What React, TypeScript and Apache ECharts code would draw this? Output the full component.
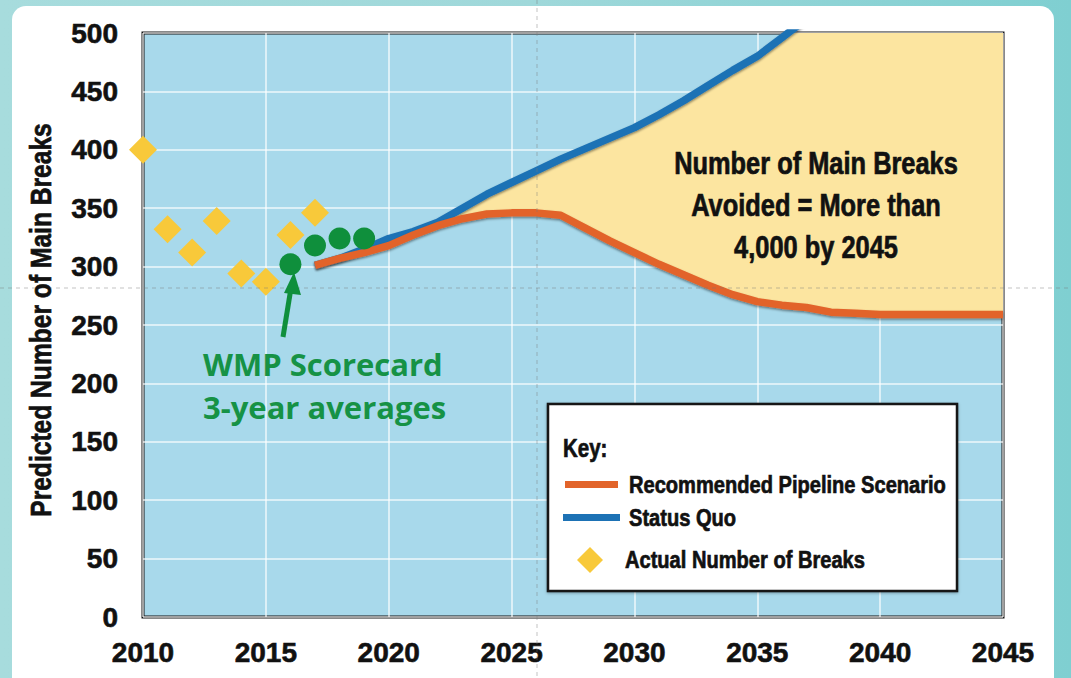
import React, { useEffect, useRef } from "react";
import * as echarts from "echarts";

// ---------- data ----------
const actualYears = [2010, 2011, 2012, 2013, 2014, 2015, 2016, 2017];
const actualBreaks = [400, 332, 312, 339, 294, 287, 327, 346];

const scorecardYears = [2016, 2017, 2018, 2019];
const scorecardAvg = [302, 318, 324, 324];

const recommendedYears = [
  2017, 2018, 2019, 2020, 2021, 2022, 2023, 2024, 2025, 2026, 2027, 2028, 2029, 2030, 2031,
  2032, 2033, 2034, 2035, 2036, 2037, 2038, 2039, 2040, 2041, 2042, 2043, 2044, 2045,
];
const recommended = [
  301, 307, 312, 318, 327, 335, 341, 345, 346, 346, 344, 333, 322, 312, 302,
  293, 284, 276, 270, 267, 265, 261, 260, 259, 259, 259, 259, 259, 259,
];

const statusQuoYears = [
  2017, 2018, 2019, 2020, 2021, 2022, 2023, 2024, 2025, 2026, 2027, 2028, 2029, 2030, 2031,
  2032, 2033, 2034, 2035, 2036, 2037,
];
const statusQuo = [
  301, 307, 315, 324, 330, 338, 350, 362, 372, 382, 392, 401, 410, 419, 430,
  442, 455, 468, 480, 496, 512,
];

const xMin = 2010;
const xMax = 2045;
const yMin = 0;
const yMax = 500;

const yTitle = "Predicted Number of Main Breaks";
const annotationLines = ["Number of Main Breaks", "Avoided = More than", "4,000 by 2045"];
const scorecardLabel = ["WMP Scorecard", "3-year averages"];
const keyTitle = "Key:";
const keyItems = ["Recommended Pipeline Scenario", "Status Quo", "Actual Number of Breaks"];

// ---------- styles ----------
const SANS = "'Liberation Sans', Arial, sans-serif";
const NARROW_SCALE = 0.82;
const ORANGE = "#e2642a";
const BLUE = "#1d72b5";
const YELLOW_FILL = "#fce5a0";
const DIAMOND = "#f8c93a";
const GREEN = "#0f8f3c";
const PLOT_BG = "#a8d9eb";

function pairs(xs: number[], ys: number[]) {
  return xs.map((x, i) => [x, ys[i]]);
}

function narrowText(
  text: string,
  x: number,
  y: number,
  size: number,
  align: string,
  extra: any = {}
) {
  return {
    type: "text",
    z: 61,
    x,
    y,
    scaleX: NARROW_SCALE,
    ...extra,
    style: {
      text,
      fontFamily: SANS,
      fontWeight: "bold",
      fontSize: size,
      fill: "#111",
      stroke: "#111",
      lineWidth: 0.7,
      align,
      verticalAlign: "middle",
    },
  };
}

export default function App() {
  const ref = useRef<HTMLDivElement | null>(null);

  useEffect(() => {
    if (!ref.current) return;
    document.body.style.margin = "0";
    const chart = echarts.init(ref.current, null, { renderer: "svg" });

    const orangePts = pairs(recommendedYears, recommended);
    const bluePts = pairs(statusQuoYears, statusQuo);

    // upper edge of the "avoided" area: status quo clipped at the axis max
    const upper: number[][] = [];
    for (let i = 0; i < bluePts.length; i++) {
      const [x, y] = bluePts[i];
      if (y <= yMax) {
        upper.push([x, y]);
      } else {
        const [px, py] = bluePts[i - 1];
        const t = (yMax - py) / (y - py);
        upper.push([px + t * (x - px), yMax]);
        break;
      }
    }
    upper.push([xMax, yMax]);

    const gridLine = { show: true, lineStyle: { color: "rgba(255,255,255,0.6)", width: 2 } };
    const tickFont = {
      fontFamily: SANS,
      fontWeight: "bold",
      fontSize: 28,
      color: "#111",
      textBorderColor: "#111",
      textBorderWidth: 0.6,
    };

    const option: any = {
      animation: false,
      backgroundColor: "transparent",
      textStyle: { fontFamily: SANS },
      grid: {
        left: 143,
        right: 68,
        top: 33,
        bottom: 61,
        show: true,
        backgroundColor: PLOT_BG,
        borderColor: "#151515",
        borderWidth: 3,
        containLabel: false,
        outerBoundsMode: "none",
      },
      xAxis: {
        type: "value",
        min: xMin,
        max: xMax,
        interval: 5,
        axisLine: { show: false },
        axisTick: { show: false },
        splitLine: gridLine,
        axisLabel: { formatter: (v: number) => String(v), margin: 21, ...tickFont },
      },
      yAxis: {
        type: "value",
        min: yMin,
        max: yMax,
        interval: 50,
        axisLine: { show: false },
        axisTick: { show: false },
        splitLine: gridLine,
        axisLabel: { margin: 25, ...tickFont },
      },
      series: [
        {
          type: "custom",
          name: "Avoided",
          coordinateSystem: "cartesian2d",
          data: [[xMin, yMin]],
          z: 1,
          silent: true,
          renderItem: (_params: any, api: any) => {
            const pts: number[][] = [];
            upper.forEach((p) => pts.push(api.coord(p)));
            for (let i = orangePts.length - 1; i >= 0; i--) pts.push(api.coord(orangePts[i]));
            return {
              type: "polygon",
              shape: { points: pts },
              style: { fill: YELLOW_FILL },
            };
          },
        },
        {
          type: "line",
          name: "Status Quo",
          data: bluePts,
          showSymbol: false,
          z: 3,
          lineStyle: {
            color: BLUE,
            width: 7.5,
            shadowColor: "rgba(0,0,0,0.45)",
            shadowBlur: 2,
            shadowOffsetY: 1.5,
          },
        },
        {
          type: "line",
          name: "Recommended Pipeline Scenario",
          data: orangePts,
          showSymbol: false,
          z: 4,
          lineStyle: {
            color: ORANGE,
            width: 7.5,
            shadowColor: "rgba(0,0,0,0.45)",
            shadowBlur: 2,
            shadowOffsetY: 1.5,
          },
        },
        {
          type: "scatter",
          name: "Actual Number of Breaks",
          data: pairs(actualYears, actualBreaks),
          symbol: "diamond",
          symbolSize: 28,
          clip: false,
          z: 6,
          itemStyle: { color: DIAMOND, opacity: 1 },
        },
        {
          type: "scatter",
          name: "WMP Scorecard 3-year averages",
          data: pairs(scorecardYears, scorecardAvg),
          symbol: "circle",
          symbolSize: 22,
          clip: false,
          z: 7,
          itemStyle: { color: GREEN, opacity: 1 },
        },
      ],
      graphic: [
        // fold creases of the scanned page
        {
          type: "line",
          z: 50,
          silent: true,
          shape: { x1: 0, y1: 288, x2: 1071, y2: 288 },
          style: { stroke: "rgba(120,120,120,0.45)", lineWidth: 1, lineDash: [4, 4] },
        },
        {
          type: "line",
          z: 50,
          silent: true,
          shape: { x1: 537, y1: 0, x2: 537, y2: 678 },
          style: { stroke: "rgba(120,120,120,0.45)", lineWidth: 1, lineDash: [4, 4] },
        },
        // y-axis title
        narrowText(yTitle, 41, 320, 30, "center", { rotation: Math.PI / 2 }),
        // annotation
        ...annotationLines.map((t, i) => narrowText(t, 816, 163 + i * 42, 31, "center")),
        // scorecard label
        ...scorecardLabel.map((t, i) => ({
          type: "text",
          z: 60,
          x: 203,
          y: 364 + i * 43,
          style: {
            text: t,
            fontFamily: "'Open Sans', 'Noto Sans', sans-serif",
            fontWeight: "bold",
            fontSize: 31,
            fill: "#169245",
            align: "left",
            verticalAlign: "middle",
          },
        })),
        // arrow
        {
          type: "line",
          z: 60,
          shape: { x1: 283, y1: 337, x2: 291, y2: 288 },
          style: { stroke: GREEN, lineWidth: 5 },
        },
        {
          type: "polygon",
          z: 60,
          shape: { points: [[294, 272], [284, 293], [301, 295]] },
          style: { fill: GREEN },
        },
        // key box
        {
          type: "rect",
          z: 60,
          shape: { x: 548, y: 404, width: 409, height: 187 },
          style: {
            fill: "#ffffff",
            stroke: "#151515",
            lineWidth: 2.5,
            shadowColor: "rgba(0,0,0,0.3)",
            shadowBlur: 3,
            shadowOffsetY: 1,
          },
        },
        narrowText(keyTitle, 563, 448, 25, "left"),
        {
          type: "rect",
          z: 61,
          shape: { x: 565, y: 481, width: 53, height: 7 },
          style: { fill: ORANGE },
        },
        {
          type: "rect",
          z: 61,
          shape: { x: 563, y: 514, width: 57, height: 7 },
          style: { fill: BLUE },
        },
        {
          type: "polygon",
          z: 61,
          shape: { points: [[590, 547], [603, 560], [590, 573], [577, 560]] },
          style: { fill: DIAMOND },
        },
        ...keyItems.map((t, i) =>
          narrowText(t, i === 2 ? 625 : 629, [485, 518, 560][i], 24.5, "left")
        ),
      ],
    };

    chart.setOption(option);
    return () => chart.dispose();
  }, []);

  return (
    <div
      style={{
        position: "fixed",
        left: 0,
        top: 0,
        width: 1071,
        height: 678,
        overflow: "hidden",
        background: "linear-gradient(90deg, #a7dcdd 0%, #9fd8da 50%, #7fcfd1 100%)",
      }}
    >
      <div
        style={{
          position: "absolute",
          left: 12,
          top: 6,
          width: 1042,
          height: 690,
          background: "#ffffff",
          borderRadius: 14,
        }}
      />
      <div ref={ref} style={{ position: "absolute", left: 0, top: 0, width: 1071, height: 678 }} />
    </div>
  );
}
